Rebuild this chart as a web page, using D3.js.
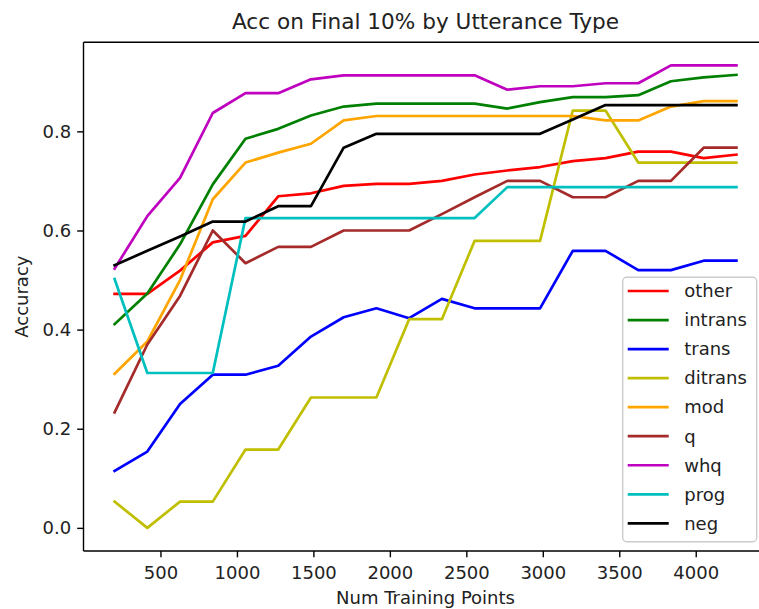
<!DOCTYPE html>
<html>
<head>
<meta charset="utf-8">
<script src="https://cdn.jsdelivr.net/npm/d3@7"></script>
<style>
  body { margin: 0; background: #fff; }
  svg text { font-family: "DejaVu Sans", sans-serif; fill: #222; }
</style>
</head>
<body>
<div id="chart"></div>
<script>
// Acc on Final 10% by Utterance Type (multi-line chart)
const trainingPoints = [200, 414, 628, 842, 1056, 1270, 1484, 1698, 1912, 2126, 2340, 2554, 2768, 2982, 3196, 3410, 3624, 3838, 4052, 4266];

const other   = [0.472, 0.472, 0.519, 0.576, 0.589, 0.669, 0.675, 0.690, 0.694, 0.694, 0.700, 0.713, 0.721, 0.728, 0.740, 0.746, 0.759, 0.759, 0.746, 0.753];
const intrans = [0.411, 0.473, 0.572, 0.693, 0.785, 0.805, 0.832, 0.850, 0.856, 0.856, 0.856, 0.856, 0.846, 0.859, 0.869, 0.869, 0.873, 0.901, 0.909, 0.914];
const trans   = [0.115, 0.154, 0.250, 0.309, 0.309, 0.327, 0.386, 0.425, 0.443, 0.423, 0.462, 0.443, 0.443, 0.443, 0.559, 0.559, 0.520, 0.520, 0.539, 0.539];
const ditrans = [0.053, 0.000, 0.053, 0.053, 0.158, 0.158, 0.263, 0.263, 0.263, 0.421, 0.421, 0.579, 0.579, 0.579, 0.842, 0.842, 0.737, 0.737, 0.737, 0.737];
const mod     = [0.311, 0.376, 0.500, 0.663, 0.737, 0.757, 0.775, 0.822, 0.831, 0.831, 0.831, 0.831, 0.831, 0.831, 0.831, 0.822, 0.822, 0.850, 0.861, 0.861];
const q       = [0.233, 0.370, 0.468, 0.600, 0.534, 0.567, 0.567, 0.600, 0.600, 0.600, 0.633, 0.667, 0.700, 0.700, 0.667, 0.667, 0.700, 0.700, 0.767, 0.767];
const whq     = [0.523, 0.629, 0.706, 0.837, 0.877, 0.877, 0.905, 0.913, 0.913, 0.913, 0.913, 0.913, 0.884, 0.891, 0.891, 0.897, 0.897, 0.933, 0.933, 0.933];
const prog    = [0.502, 0.3125, 0.3125, 0.3125, 0.625, 0.625, 0.625, 0.625, 0.625, 0.625, 0.625, 0.625, 0.6875, 0.6875, 0.6875, 0.6875, 0.6875, 0.6875, 0.6875, 0.6875];
const neg     = [0.530, 0.559, 0.588, 0.618, 0.618, 0.649, 0.649, 0.767, 0.795, 0.795, 0.795, 0.795, 0.795, 0.795, 0.824, 0.853, 0.853, 0.853, 0.853, 0.853];

const seriesNames = ["other", "intrans", "trans", "ditrans", "mod", "q", "whq", "prog", "neg"];
const seriesValues = [other, intrans, trans, ditrans, mod, q, whq, prog, neg];
const seriesColors = ["#ff0000", "#008000", "#0000ff", "#bfbf00", "#ffa500", "#a52a2a", "#bf00bf", "#00bfbf", "#000000"];

const xTicks = [500, 1000, 1500, 2000, 2500, 3000, 3500, 4000];
const yTicks = [0.0, 0.2, 0.4, 0.6, 0.8];

const W = 759, H = 609;
const margin = { top: 42.3, right: -8.5, bottom: 58, left: 83.5 };
const width = W - margin.left - margin.right;
const height = H - margin.top - margin.bottom;

const svg = d3.select("#chart").append("svg")
  .attr("width", W).attr("height", H);

const g = svg.append("g")
  .attr("transform", `translate(${margin.left},${margin.top})`);

// matplotlib-like 5% margins
const xExt = d3.extent(trainingPoints);
const xPad = (xExt[1] - xExt[0]) * 0.05;
const allY = seriesValues.flat();
const yExt = d3.extent(allY);
const yPad = (yExt[1] - yExt[0]) * 0.05;

const x = d3.scaleLinear().domain([xExt[0] - xPad, xExt[1] + xPad]).range([0, width]);
const y = d3.scaleLinear().domain([yExt[0] - yPad, yExt[1] + yPad]).range([height, 0]);

const line = d3.line()
  .x((d, i) => x(trainingPoints[i]))
  .y(d => y(d));

seriesValues.forEach((vals, k) => {
  g.append("path")
    .datum(vals)
    .attr("fill", "none")
    .attr("stroke", seriesColors[k])
    .attr("stroke-width", 2.7)
    .attr("stroke-linejoin", "round")
    .attr("stroke-linecap", "square")
    .attr("d", line);
});

// axes
const xAxis = g.append("g")
  .attr("transform", `translate(0,${height})`)
  .call(d3.axisBottom(x).tickValues(xTicks).tickFormat(d3.format("d")).tickSize(6.3).tickPadding(6));
const yAxis = g.append("g")
  .call(d3.axisLeft(y).tickValues(yTicks).tickFormat(d3.format(".1f")).tickSize(6.3).tickPadding(6));

[xAxis, yAxis].forEach(a => {
  a.selectAll(".domain").remove();
  a.selectAll(".tick line").attr("stroke", "#000").attr("stroke-width", 1.4);
  a.selectAll(".tick text").attr("font-size", 18).attr("fill", "#222");
});
xAxis.selectAll(".tick text").attr("dy", "0.85em");

// spines
g.append("line").attr("x1", 0).attr("x2", 0).attr("y1", 0).attr("y2", height)
  .attr("stroke", "#000").attr("stroke-width", 1.4);
g.append("line").attr("x1", 0).attr("x2", width).attr("y1", height).attr("y2", height)
  .attr("stroke", "#000").attr("stroke-width", 1.4);
g.append("line").attr("x1", 0).attr("x2", width).attr("y1", 0).attr("y2", 0)
  .attr("stroke", "#000").attr("stroke-width", 1.4);
g.append("line").attr("x1", width).attr("x2", width).attr("y1", 0).attr("y2", height)
  .attr("stroke", "#000").attr("stroke-width", 1.4);

// title and labels
svg.append("text")
  .attr("x", margin.left + width / 2).attr("y", 29)
  .attr("text-anchor", "middle").attr("font-size", 21.6)
  .text("Acc on Final 10% by Utterance Type");

svg.append("text")
  .attr("x", margin.left + width / 2).attr("y", 604)
  .attr("text-anchor", "middle").attr("font-size", 18)
  .text("Num Training Points");

svg.append("text")
  .attr("transform", `translate(28,${margin.top + height / 2}) rotate(-90)`)
  .attr("text-anchor", "middle").attr("font-size", 18)
  .text("Accuracy");

// legend
const legend = svg.append("g").attr("transform", "translate(622.7,277.3)");
legend.append("rect")
  .attr("width", 134).attr("height", 264.4)
  .attr("rx", 4).attr("ry", 4)
  .attr("fill", "#fff").attr("fill-opacity", 0.8)
  .attr("stroke", "#cccccc").attr("stroke-width", 1.4);

seriesNames.forEach((name, i) => {
  const row = legend.append("g").attr("transform", `translate(0,${13.7 + i * 29.04})`);
  row.append("line").attr("x1", 5).attr("x2", 46).attr("y1", 0).attr("y2", 0)
    .attr("stroke", seriesColors[i]).attr("stroke-width", 2.7);
  row.append("text").attr("x", 61.5).attr("y", 0).attr("dy", "0.35em")
    .attr("font-size", 18).text(name);
});
</script>
</body>
</html>
